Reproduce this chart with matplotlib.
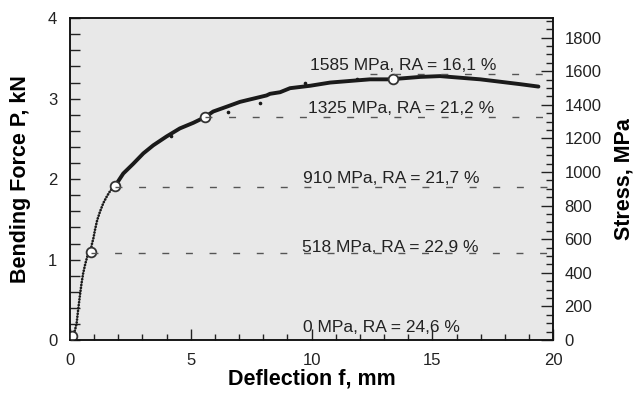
# Bending force vs deflection with stress levels on the right axis

import numpy as np
import matplotlib.pyplot as plt
from matplotlib.ticker import MultipleLocator

plt.rcParams['font.family'] = ['Liberation Sans', 'DejaVu Sans']

# early part of the record (sparse dots)
x_early = [0.08, 0.21, 0.28, 0.34, 0.41, 0.48, 0.55, 0.64, 0.76, 0.87, 0.90,
           0.97, 1.04, 1.13, 1.24, 1.38, 1.52, 1.68, 1.86]
p_early = [0.05, 0.12, 0.21, 0.37, 0.54, 0.70, 0.83, 0.95, 1.08, 1.10, 1.18,
           1.26, 1.37, 1.49, 1.59, 1.70, 1.78, 1.86, 1.91]

# dense part of the record
x_main = [1.86, 2.21, 2.62, 3.04, 3.45, 4.00, 4.55, 5.11, 5.59, 5.93, 6.49,
          7.04, 7.45, 7.59, 8.14, 8.28, 8.70, 9.11, 9.94, 10.77, 11.59,
          12.42, 13.37, 13.66, 14.08, 14.49, 15.32, 16.15, 16.98, 17.81,
          18.63, 19.39]
p_main = [1.91, 2.07, 2.19, 2.32, 2.42, 2.53, 2.63, 2.70, 2.77, 2.84, 2.90,
          2.96, 2.99, 3.00, 3.04, 3.06, 3.08, 3.13, 3.16, 3.20, 3.22,
          3.24, 3.24, 3.25, 3.26, 3.27, 3.28, 3.26, 3.24, 3.21,
          3.18, 3.15]

# a few stray points off the band
x_stray = [6.54, 7.86, 9.73, 4.2, 11.9]
p_stray = [2.84, 2.95, 3.20, 2.53, 3.24]

# open circles: stress levels
x_mark = [0.08, 0.87, 1.86, 5.59, 13.37]
p_mark = [0.05, 1.10, 1.91, 2.77, 3.24]

# dashed stress lines (MPa) and where they start (mm)
stress = [518, 910, 1325, 1585]
x_start = [0.87, 1.86, 5.59, 12.4]

labels = ["0 MPa, RA = 24,6 %", "518 MPa, RA = 22,9 %", "910 MPa, RA = 21,7 %",
          "1325 MPa, RA = 21,2 %", "1585 MPa, RA = 16,1 %"]
lab_x = [9.65, 9.6, 9.65, 9.86, 9.94]
lab_p = [0.10, 1.09, 1.95, 2.82, 3.35]

fig = plt.figure(figsize=(6.41, 3.95), dpi=100)
ax = fig.add_axes([0.109, 0.139, 0.754, 0.815])
ax.set_facecolor('#e8e8e8')
ax2 = ax.twinx()

ax.plot(x_early, p_early, color='#1a1a1a', lw=1.9,
        linestyle=(0, (0.1, 1.0)), dash_capstyle='round', zorder=3)
ax.plot(x_main, p_main, color='#1a1a1a', lw=2.8, solid_capstyle='round',
        solid_joinstyle='round', zorder=3)
ax.plot(x_stray, p_stray, 'o', color='#1a1a1a', ms=1.6, zorder=3)
ax.plot(x_mark, p_mark, 'o', ms=7, mfc='white', mec='#333333', mew=1.3,
        zorder=5)

for s, xs in zip(stress, x_start):
    ln, = ax2.plot([xs, 20], [s, s], color='#555555', lw=1.0, zorder=2)
    ln.set_dashes((5, 12))

for t, xx, yy in zip(labels, lab_x, lab_p):
    ax.text(xx, yy, t, fontsize=12.5, color='#222222', va='baseline',
            ha='left', zorder=4)

ax.set_xlim(0, 20)
ax.set_ylim(0, 4)
ax2.set_ylim(0, 1916)

ax.xaxis.set_major_locator(MultipleLocator(5))
ax.xaxis.set_minor_locator(MultipleLocator(1))
ax.yaxis.set_major_locator(MultipleLocator(1))
ax.yaxis.set_minor_locator(MultipleLocator(0.2))
ax2.yaxis.set_major_locator(MultipleLocator(200))
ax2.yaxis.set_minor_locator(MultipleLocator(50))

ax.tick_params(axis='x', which='both', direction='in', top=False,
               labelsize=12, colors='#222222', pad=9)
ax.tick_params(axis='x', which='major', length=8, width=1)
ax.tick_params(axis='x', which='minor', length=4, width=1)
ax.tick_params(axis='y', which='both', direction='in', right=False,
               labelsize=12, colors='#222222', pad=9, length=7, width=1)
ax2.tick_params(axis='y', which='both', direction='in', labelsize=12,
                colors='#222222', pad=8, width=1)
ax2.tick_params(axis='y', which='major', length=9)
ax2.tick_params(axis='y', which='minor', length=5)

for a in (ax, ax2):
    for sp in a.spines.values():
        sp.set_linewidth(1.1)
        sp.set_color('#111111')

ax.set_xlabel("Deflection f, mm", fontsize=15.5, fontweight='bold', labelpad=1)
ax.set_ylabel("Bending Force P, kN", fontsize=15.5, fontweight='bold',
              labelpad=12)
ax2.set_ylabel("Stress, MPa", fontsize=15.5, fontweight='bold', labelpad=9)

fig.savefig("out.png", dpi=100)
